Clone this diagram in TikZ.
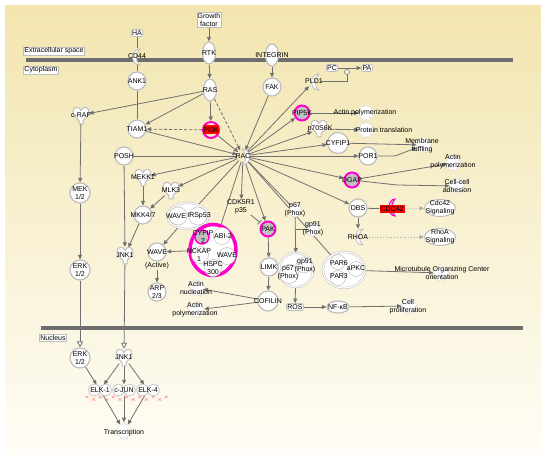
\documentclass[tikz,border=0pt]{standalone}
\usepackage{fontspec}
\setmainfont{Liberation Sans}
\usetikzlibrary{arrows.meta,shapes.geometric}
\definecolor{eg}{RGB}{112,112,112}
\definecolor{nb}{RGB}{190,190,190}
\definecolor{mag}{RGB}{255,0,204}
\definecolor{gfill}{RGB}{192,192,192}
\definecolor{bgtop}{RGB}{242,229,175}
\definecolor{bgbot}{RGB}{255,253,246}
\definecolor{barc}{RGB}{110,110,110}
\newcommand\fs{\fontsize{7}{8}\selectfont}
\pgfdeclarelayer{back}
\pgfdeclarelayer{bg}
\pgfsetlayers{back,bg,main}
\tikzset{
 kinase/.pic={\path[draw=nb,line width=1pt,fill=white] (-8,-3) .. controls (-8,-9) and (-1.5,-9) .. (0,-4.5) .. controls (1.5,-9) and (8,-9) .. (8,-3) .. controls (8,2) and (3,3) .. (2,6) -- (2,9) -- (-2,9) -- (-2,6) .. controls (-3,3) and (-8,2) .. (-8,-3) -- cycle;},
 crescent/.pic={\path[draw=nb,line width=0.8pt,fill=white] (3,-8) .. controls (-7,-8) and (-7,8) .. (3,8) .. controls (-2,5) and (-2,-5) .. (3,-8) -- cycle;},
 peanut/.pic={\path[draw=nb,line width=1.6pt] (-5.5,0) circle (5.5) (5.5,0) circle (5.5); \fill[white] (-5.5,0) circle (5.5) (5.5,0) circle (5.5);}
}
\begin{document}
\begin{tikzpicture}[x=1pt,y=-1pt,font=\fs,
  every label/.style={align=center,inner sep=0pt,font=\fs},
  ent/.style={circle,draw=nb,line width=1.2pt,fill=white,inner sep=0pt,minimum size=18},
  magc/.style={circle,fill=gfill,draw=mag,line width=2pt,inner sep=0pt,minimum size=15},
  inv/.style={circle,inner sep=0pt,minimum size=16},
  rec/.style={ellipse,draw=nb,line width=1.2pt,fill=white,inner sep=0pt,minimum width=13,minimum height=22},
  lbox/.style={draw=nb,fill=white,line width=0.4pt,inner sep=1pt,align=center},
  sbox/.style={rounded corners=2pt,draw=nb,fill=white,line width=0.8pt,inner sep=1pt},
  gear/.style={star,star points=9,star point ratio=1.35,fill=white,draw=nb!60,line width=0.4pt,inner sep=0pt,minimum size=17},
  txt/.style={align=center,inner sep=0.5pt},
  cx/.style={ellipse,draw=nb,line width=0.5pt,double=white,double distance=1.2pt,fill=white,inner sep=0pt},
  mem/.style={circle,draw=nb,line width=0.5pt,fill=white,inner sep=0pt,minimum size=17},
  sig/.style={ellipse,draw=nb,line width=1pt,fill=white,minimum width=31,minimum height=17,inner sep=0pt},
  ln/.style={draw=eg,line width=0.8pt},
  ar/.style={ln,-{Triangle[length=4.5pt,width=4pt]}},
  dsh/.style={ar,dash pattern=on 3pt off 2pt},
  dotar/.style={draw=eg!60,line width=0.8pt,dash pattern=on 0.8pt off 2pt,-{Triangle[length=4.5pt,width=4pt]}},
  opn/.style={ln,-{Triangle[open,fill=white,length=6pt,width=6pt]}},
  inh/.style={ln,-{Bar[width=6pt]},shorten >=2pt},
]
\useasboundingbox (0,0) rectangle (550,465);
\begin{pgfonlayer}{back}
\shade[top color=bgtop,bottom color=bgbot] (5,6) rectangle (541,455);
\draw[barc,line width=3.5pt] (26,60) -- (513,60);
\draw[barc,line width=3.5pt] (41,328) -- (523,328);
\end{pgfonlayer}

% compartment labels
\node[lbox] (ecs) at (54,51) {Extracellular space};
\node[lbox] (cyto) at (41,70) {Cytoplasm};
\node[lbox] (nucl) at (53,338) {Nucleus};
\node[lbox] (gf) at (209,20) {Growth\\factor};

% top
\node[sbox] (ha) at (137,33) {HA};
\pic at (137,57) {crescent};
\node[inv,label=center:CD44] (cd44) at (137,56) {};
\node[rec,label=center:RTK] (rtk) at (209,53) {};
\node[rec,label=center:INTEGRIN] (integrin) at (272,55) {};
\node[ent,label=center:ANK1] (ank1) at (137,81) {};
\node[ent,label=center:FAK] (fak) at (272,87) {};
\node[rec,label=center:RAS] (ras) at (210,90) {};
\pic at (81,115) {kinase};
\node[inv,label=center:c-RAF] (craf) at (81,115) {};
\node[ent,label=center:TIAM1] (tiam1) at (137,129) {};
\node[circle,draw=mag,line width=2pt,minimum size=16,inner sep=0pt] (pi3k) at (211,130) {};
\node[fill=red,minimum width=16,minimum height=9,inner sep=0pt] (pi3kb) at (211,130) {PI3K};
\pic[xscale=-1] at (245,157) {crescent};
\node[inv,minimum size=12,label=center:RAC] (rac) at (243,156) {};

% right upper
\node[sbox] (pc) at (332,68) {PC};
\node[sbox] (pa) at (367,68) {PA};
\node[circle,draw=eg,fill=white,line width=0.6pt,minimum size=5,inner sep=0pt] (jn) at (347,72) {};
\pic at (316,82) {crescent};
\node[inv,minimum size=14,label=center:PLD1] (pld1) at (314,81) {};
\node[magc,label=center:PIP5K] (pip5k) at (302,113) {};
\node[gear] (g1) at (366,113) {};
\node[txt] (ap1) at (365,113) {Actin polymerization};
\pic at (319,128) {kinase};
\node[inv,label=center:p70S6K] (p70) at (320,129) {};
\node[gear] (g2) at (366,130) {};
\node[txt] (pt) at (384,130) {Protein translation};
\node[ent,minimum size=21,label=center:CYFIP1] (cyfip1) at (338,143) {};
\node[gear] (g3) at (424,145) {};
\node[txt] (mr) at (422,146) {Membrane\\ruffling};
\node[ent,label=center:POR1] (por1) at (368,156) {};
\node[gear] (g4) at (453,163) {};
\node[txt] (ap2) at (453,162) {Actin\\polymerization};
\node[magc,label=center:DGAP] (dgap) at (352,180) {};
\node[gear] (g5) at (457,186) {};
\node[txt] (cca) at (457,186) {Cell-cell\\adhesion};
\node[ent,label=center:DBS] (dbs) at (358,208) {};
\path[fill=gfill,draw=mag,line width=1pt] (395,199) .. controls (387,199) and (387,216) .. (395,216) .. controls (391,212) and (391,203) .. (395,199) -- cycle;
\node[fill=red,minimum width=25,minimum height=8.5,inner sep=0pt] (cdc42) at (392,209) {CDC42};
\node[sig,label=center:{Cdc42\\Signaling}] (cdc42s) at (440,208) {};
\pic at (360,237) {crescent};
\node[inv,label=center:RHOA] (rhoa) at (358,237) {};
\node[sig,label=center:{RhoA\\Signaling}] (rhoas) at (440,237) {};
\node[ellipse,draw=nb!70,line width=0.5pt,fill=white,minimum width=12,minimum height=14,inner sep=0pt,label=center:{p67\\(Phox)}] (p67) at (295,210) {};
\node[ellipse,draw=nb!70,line width=0.5pt,fill=white,minimum width=12,minimum height=14,inner sep=0pt,label=center:{gp91\\(Phox)}] (gp91) at (313,229) {};

% phox complex
\node[cx,minimum size=34] (phox) at (296,270) {};
\node[mem,minimum size=19] (p67m) at (289,274) {};
\node[mem,minimum size=16] (gp91m) at (304,265) {};
\node[txt] (p67t) at (288,273) {p67\\(Phox)};
\node[txt] (gp91t) at (305,266) {gp91\\(Phox)};

% par complex
\node[cx,minimum width=42,minimum height=36] (par) at (344,270) {};
\node[mem,minimum size=15] (par6m) at (338,262) {};
\node[mem,minimum size=15] (par3m) at (338,278) {};
\node[mem,minimum size=15] (apkcm) at (356,269) {};
\node[txt] (par6t) at (339,263) {PAR6};
\node[txt] (par3t) at (339,276) {PAR3};
\node[txt] (apkct) at (356,268) {aPKC};
\node[gear] (g6) at (441,273) {};
\node[txt] (mtoc) at (442,273) {Microtubule Organizing Center\\orientation};

% left middle
\node[ent,label=center:POSH] (posh) at (124,156) {};
\pic at (143,177) {kinase};
\node[inv,label=center:MEKK1] (mekk1) at (143,177) {};
\pic at (171,190) {kinase};
\node[inv,label=center:MLK3] (mlk3) at (171,190) {};
\node[ent,minimum size=20,label=center:{MEK\\1/2}] (mek) at (80,193) {};
\node[ent,label=center:MKK4/7] (mkk47) at (143,215) {};
\node[cx,minimum width=41,minimum height=26] (wirs) at (188,216) {};
\node[mem,minimum size=18] (wavem) at (178,216) {};
\node[mem,minimum size=18] (irsm) at (198,216) {};
\node[txt] (wavet) at (176,216) {WAVE};
\node[txt] (irst) at (199,216) {IRSp53};
\node[txt] (cdk5) at (241,207) {CDK5R1\\p35};
\node[magc,label=center:PAK] (pak) at (268,229) {};
\pic at (125,255) {kinase};
\node[inv,label=center:JNK1] (jnk1c) at (125,255) {};
\node[ent,label=center:WAVE] (waveact) at (157,252) {};
\node[txt] (activet) at (157,266) {(Active)};

% big complex
\node[ellipse,draw=mag,line width=3.5pt,fill=white,minimum width=46,minimum height=51,inner sep=0pt] (bigcx) at (213,250) {};
\node[mem] (abi2m) at (222,236) {};
\node[mem] (nckapm) at (200,255) {};
\node[mem] (wave2m) at (227,256) {};
\node[mem] (hspcm) at (213,268) {};
\node[circle,fill=gfill,draw=mag,line width=1.5pt,minimum size=14,inner sep=0pt] (cyfip2m) at (202,237) {};
\node[txt] (cyfip2t) at (203,237) {CYFIP\\2};
\node[txt] (abi2t) at (223,236) {ABI-2};
\node[txt] (nckapt) at (199,255) {NCKAP\\1};
\node[txt] (wave2t) at (227,255) {WAVE};
\node[txt] (hspct) at (213,268) {HSPC\\300};

\node[ent,minimum size=20,label=center:{ERK\\1/2}] (erkc) at (80,270) {};
\node[ent,label=center:LIMK] (limk) at (269,267) {};
\node[ent,label=center:{ARP\\2/3}] (arp) at (157,292) {};
\node[gear] (g7) at (197,288) {};
\node[txt] (an) at (196,288) {Actin\\nucleation};
\node[ent,minimum size=20,label=center:COFILIN] (cofilin) at (268,301) {};
\node[gear] (g8) at (196,310) {};
\node[txt] (ap3) at (195,310) {Actin\\polymerization};
\node[sbox,minimum width=16] (ros) at (295,307) {ROS};
\node[ellipse,draw=nb,line width=1.2pt,fill=white,minimum width=22,minimum height=12,inner sep=0pt,label=center:NF-κB] (nfkb) at (338,307) {};
\node[gear] (g9) at (409,306) {};
\node[txt] (cp) at (408,307) {Cell\\proliferation};

% nucleus
\node[ent,minimum size=20,label=center:{ERK\\1/2}] (erkn) at (80,358) {};
\pic at (124,357) {kinase};
\node[inv,label=center:JNK1] (jnk1n) at (124,357) {};
\pic at (100,390) {peanut};
\node[ellipse,inner sep=0pt,minimum width=22,minimum height=11,label=center:ELK-1] (elk1) at (100,390) {};
\pic at (124,390) {peanut};
\node[ellipse,inner sep=0pt,minimum width=22,minimum height=11,label=center:c-JUN] (cjun) at (124,390) {};
\pic at (148,390) {peanut};
\node[ellipse,inner sep=0pt,minimum width=22,minimum height=11,label=center:ELK-4] (elk4) at (148,390) {};
\node[gear] (g10) at (124,431) {};
\node[txt] (trans) at (124,433) {Transcription};
\foreach \i in {0,...,12} {
  \pgfmathsetmacro\xx{87+6.6*\i}
  \pgfmathsetmacro\yy{397+mod(\i,2)*2.5}
  \draw[red!45,line width=0.5pt] (\xx-1.5,\yy-1.2) -- (\xx+1.5,\yy+1.2) (\xx-1.5,\yy+1.2) -- (\xx+1.5,\yy-1.2);
}

\begin{pgfonlayer}{bg}
\draw[ar] (gf) -- (rtk);
\draw[ln] (ha) -- (cd44);
\draw[ln] (cd44) -- (ank1);
\draw[ln] (ank1) -- (tiam1);
\draw[ar] (rtk) -- (ras);
\draw[ar] (integrin) -- (fak);
\draw[ar] (ras) -- (craf);
\draw[ar] (ras) -- (tiam1);
\draw[ar] (ras) -- (pi3k);
\draw[dsh] (ras) -- (rac);
\draw[dsh] (pi3k) -- (tiam1);
\draw[ar] (pi3k) -- (rac);
\draw[ar] (tiam1) -- (rac);
\draw[ar] (fak) -- (rac);
\draw[ar] (rac) -- (pld1);
\draw[ar] (rac) -- (pip5k);
\draw[ar] (rac) -- (p70);
\draw[ar] (rac) -- (cyfip1);
\draw[ar] (rac) -- (por1);
\draw[ar] (rac) -- (dgap);
\draw[ar] (rac) -- (dbs);
\draw[ln] (rac) -- (p67);
\draw[ln] (rac) -- (par);
\draw[ar] (rac) -- (pak);
\draw[ar] (rac) -- (cdk5);
\draw[ln] (rac) -- (bigcx);
\draw[ln] (rac) -- (wirs);
\draw[ar] (rac) -- (mlk3);
\draw[ar] (rac) -- (mekk1);
\draw[ln] (rac) -- (posh);
\draw[ar] (pc) -- (pa);
\draw[ln] (pld1) -| (jn);
\draw[ar] (pip5k) -- (g1);
\draw[ar] (p70) -- (g2);
\draw[ar] (cyfip1) -- (g3);
\draw[ar] (por1) -- ++(27,0) -- (g3);
\draw[ar] (dgap) -- (g4);
\draw[ar] (dgap) -- (397,185) -- (g5);
\draw[ln] (dbs) -- (cdc42);
\draw[ar] (dbs) -- (rhoa);
\draw[dotar] (cdc42) -- (cdc42s);
\draw[dotar] (rhoa) -- (rhoas);
\draw[ar] (p67) -- (phox);
\draw[ln] (gp91) -- (p67 |- gp91);
\draw[ar] (par) -- (g6);
\draw[ar] (phox) -- (ros);
\draw[ar] (ros) -- (nfkb);
\draw[ar] (nfkb) -- (g9);
\draw[inh] (cdk5) -- (pak);
\draw[ar] (pak) -- (limk);
\draw[ar] (limk) -- (cofilin);
\draw[ar] (cofilin) -- (g7);
\draw[ar] (cofilin) -- (g8);
\draw[ar] (wirs) -- (waveact);
\draw[ar] (bigcx) -- (waveact);
\draw[ar] (activet) -- (arp);
\draw[ar] (posh) -- (jnk1c);
\draw[ar] (mekk1) -- (mkk47);
\draw[ar] (mlk3) -- (mkk47);
\draw[ar] (mkk47) -- (jnk1c);
\draw[ar] (craf) -- (mek);
\draw[ar] (mek) -- (erkc);
\draw[opn] (erkc) -- (erkn);
\draw[opn] (jnk1c) -- (jnk1n);
\draw[ar] (erkn) -- (elk1);
\draw[ar] (jnk1n) -- (elk1);
\draw[ar] (jnk1n) -- (cjun);
\draw[ar] (jnk1n) -- (elk4);
\draw[ar] (elk1) -- (g10);
\draw[ar] (cjun) -- (g10);
\draw[ar] (elk4) -- (g10);
\end{pgfonlayer}
\end{tikzpicture}
\end{document}
